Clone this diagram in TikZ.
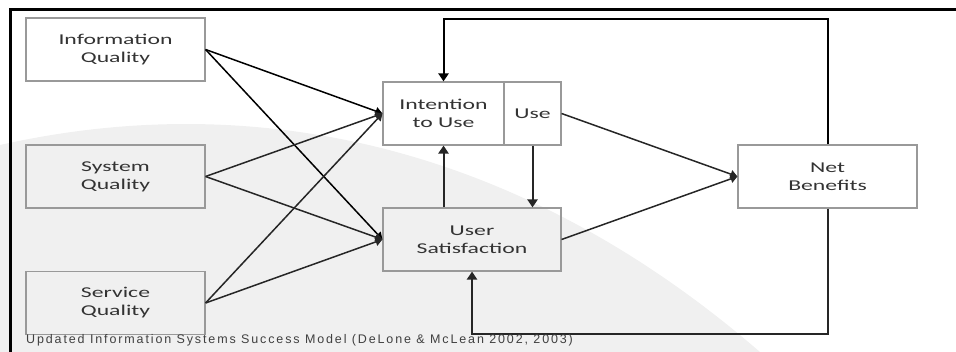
\documentclass[tikz,border=0pt]{standalone}
\usepackage{fontspec}
\setmainfont{Carlito}[FakeStretch=1.58]
\newfontfamily\capfont{Liberation Sans}[LetterSpace=15]
\usetikzlibrary{arrows.meta}

\begin{document}
\begin{tikzpicture}[
  x=1pt, y=-1pt,
  box/.style={draw=black!40, line width=1.1pt, minimum height=63pt, inner sep=0pt,
    align=center, text=black!80, font=\fontsize{15}{18}\selectfont},
  link/.style={line width=1.5pt, draw=black!85, -{Triangle[width=8pt,length=7pt]}},
  loop/.style={line width=2pt, draw=black!85, -{Triangle[width=10pt,length=8pt]}},
]
  \useasboundingbox (0,0) rectangle (956,352);

  % watermark
  \fill[black!6] (0,145) .. controls (200,100) and (480,110) .. (760,352) -- (0,352) -- cycle;

  % frame
  \draw[line width=3pt] (10,352) -- (10,10) -- (956,10);

  \node[box, minimum width=179pt] (iq) at (115.5,49.5) {Information\\Quality};
  \node[box, minimum width=179pt] (sq) at (115.5,176.5) {System\\Quality};
  \node[box, minimum width=179pt] (svq) at (115.5,303) {Service\\Quality};
  \node[box, minimum width=121pt] (itu) at (443.5,113.5) {Intention\\to Use};
  \node[box, minimum width=57pt] (use) at (532.5,113.5) {Use};
  \node[box, minimum width=178pt] (us) at (472,239.5) {User\\Satisfaction};
  \node[box, minimum width=179pt] (nb) at (827.5,176.5) {Net\\Benefits};

  \draw[link, black] (iq.east) to (itu.west);
  \draw[link, black] (iq.east) to (us.west);
  \draw[link] (sq.east) to (itu.west);
  \draw[link] (sq.east) to (us.west);
  \draw[link] (svq.east) to (itu.west);
  \draw[link] (svq.east) to (us.west);
  \draw[link] (use.east) to (nb.west);
  \draw[link] (us.east) to (nb.west);

  \draw[loop] (itu.south |- us.north) to (itu.south);
  \draw[loop] (use.south) to (use.south |- us.north);

  % feedback loops
  \coordinate (top) at (0,19);
  \coordinate (bot) at (0,334);
  \draw[loop, black] (nb.north) -- (nb.north |- top) -| (itu.north);
  \draw[loop] (nb.south) -- (nb.south |- bot) -| (us.south);

  \node[anchor=base west, inner sep=0pt, text=black!75,
    font=\capfont\fontsize{12.5}{14}\selectfont] (cap) at (26,344)
    {Updated Information Systems Success Model (DeLone \& McLean 2002, 2003)};
\end{tikzpicture}
\end{document}
